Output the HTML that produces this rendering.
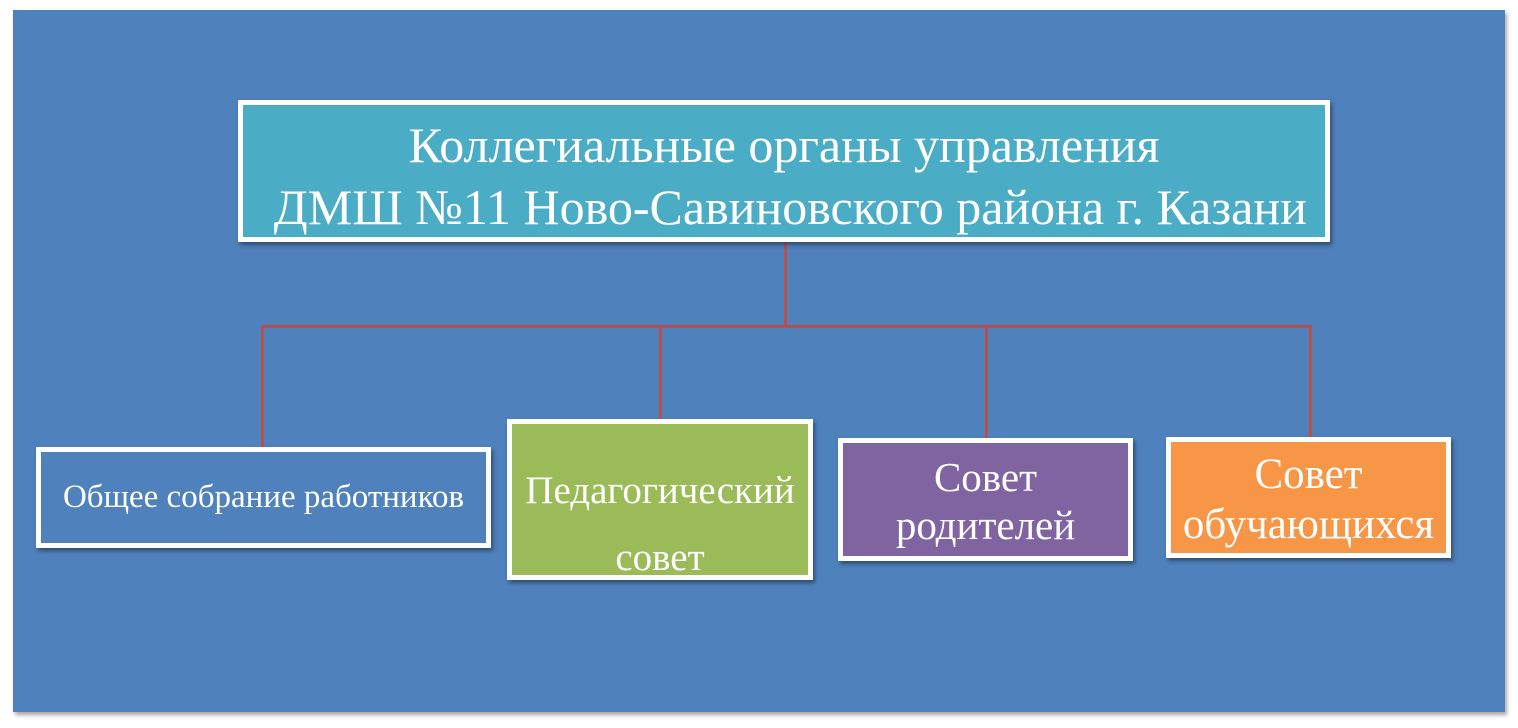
<!DOCTYPE html>
<html><head><meta charset="utf-8"><style>
body{margin:0;width:1518px;height:728px;background:#fff;position:relative;overflow:hidden;font-family:"Liberation Serif",serif;color:#fff}
.bg{position:absolute;left:13px;top:10px;width:1492px;height:702px;background:#4f81bd;box-shadow:2px 3px 4px rgba(0,0,0,.35)}
.b{position:absolute;box-sizing:border-box;border:5px solid #fff;box-shadow:2px 3px 4px rgba(0,0,0,.4);text-align:center;white-space:nowrap}
.l{position:absolute;background:#b8504d}
</style></head><body>
<div class="bg"></div>
<div class="l" style="left:784px;top:242px;width:3px;height:86px"></div>
<div class="l" style="left:261px;top:325px;width:1051px;height:3px"></div>
<div class="l" style="left:261px;top:325px;width:3px;height:124px"></div>
<div class="l" style="left:659px;top:325px;width:3px;height:96px"></div>
<div class="l" style="left:985px;top:325px;width:3px;height:115px"></div>
<div class="l" style="left:1309px;top:325px;width:3px;height:114px"></div>
<div class="b" style="left:238px;top:100px;width:1092px;height:142px;background:#4bacc6;font-size:50px;line-height:62px;padding-top:9px">Коллегиальные органы управления<br>&nbsp;ДМШ №11 Ново-Савиновского района г. Казани</div>
<div class="b" style="left:36px;top:447px;width:455px;height:101px;background:#4f81bd;font-size:33px;line-height:91px">Общее собрание работников</div>
<div class="b" style="left:507px;top:419px;width:306px;height:161px;background:#9bbb59;font-size:39px;line-height:67px;padding-top:33px">Педагогический<br>совет</div>
<div class="b" style="left:838px;top:438px;width:295px;height:123px;background:#8064a2;font-size:41px;line-height:48px;padding-top:10px">Совет<br>родителей</div>
<div class="b" style="left:1166px;top:437px;width:285px;height:121px;background:#f79646;font-size:43px;line-height:50px;padding-top:8px">Совет<br>обучающихся</div>
</body></html>
